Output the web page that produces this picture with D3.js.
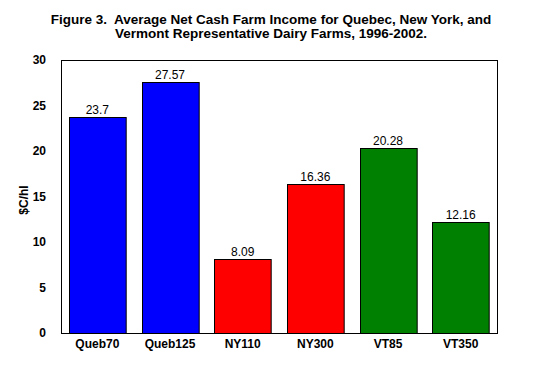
<!DOCTYPE html>
<html>
<head>
<meta charset="utf-8">
<script src="https://cdn.jsdelivr.net/npm/d3@7"></script>
<style>
body { margin: 0; background: #fff; }
text { font-family: Arial, "Liberation Sans", sans-serif; }
</style>
</head>
<body>
<div id="chart-area"></div>
<script>
// chart data
var farms = ["Queb70", "Queb125", "NY110", "NY300", "VT85", "VT350"];
var income = [23.7, 27.57, 8.09, 16.36, 20.28, 12.16];
var labels = ["23.7", "27.57", "8.09", "16.36", "20.28", "12.16"];
var barColors = ["#0000FF", "#0000FF", "#FF0000", "#FF0000", "#008000", "#008000"];
var yTicks = [0, 5, 10, 15, 20, 25, 30];

var width = 541,
	height = 366;
var margin = {top: 60, right: 44, bottom: 33, left: 61};
var w = width - margin.left - margin.right,
	h = height - margin.top - margin.bottom;

var svg = d3.select("#chart-area").append("svg")
	.attr("width", width)
	.attr("height", height);

// title
var title = svg.append("text")
	.attr("text-anchor", "middle")
	.style("font-size", "13.5px")
	.style("font-weight", "bold")
	.style("white-space", "pre");
title.append("tspan").attr("x", 271).attr("y", 24)
	.text("Figure 3.  Average Net Cash Farm Income for Quebec, New York, and");
title.append("tspan").attr("x", 271).attr("y", 38)
	.text("Vermont Representative Dairy Farms, 1996-2002.");

var g = svg.append("g")
	.attr("transform", "translate(" + margin.left + "," + margin.top + ")");

var x = d3.scaleBand()
	.domain(farms)
	.range([0, w])
	.paddingInner(0.22)
	.paddingOuter(0.11);

var y = d3.scaleLinear()
	.domain([0, 30])
	.range([h, 0]);

// frame
g.append("rect")
	.attr("x", 0.5).attr("y", 0.5)
	.attr("width", w).attr("height", h)
	.attr("fill", "none")
	.attr("stroke", "#000");

// y tick labels
var yAxis = d3.axisLeft(y).tickValues(yTicks).tickSize(0).tickPadding(15);
g.append("g")
	.call(yAxis)
	.call(function(s) { s.select(".domain").remove(); })
	.selectAll("text")
	.style("font-size", "12px")
	.style("font-weight", "bold")
	.style("font-family", "Arial, 'Liberation Sans', sans-serif")
	.attr("fill", "#000");

// x labels
var xAxis = d3.axisBottom(x).tickSize(0).tickPadding(6);
g.append("g")
	.attr("transform", "translate(0," + h + ")")
	.call(xAxis)
	.call(function(s) { s.select(".domain").remove(); })
	.selectAll("text")
	.style("font-size", "12px")
	.style("font-weight", "bold")
	.style("font-family", "Arial, 'Liberation Sans', sans-serif")
	.attr("fill", "#000");

// bars
g.selectAll(".bar")
	.data(farms)
	.enter()
	.append("rect")
	.attr("class", "bar")
	.attr("x", function(d) { return Math.round(x(d)) + 0.5; })
	.attr("y", function(d, i) { return Math.round(y(income[i])) + 0.5; })
	.attr("width", x.bandwidth())
	.attr("height", function(d, i) { return h - Math.round(y(income[i])); })
	.attr("fill", function(d, i) { return barColors[i]; })
	.attr("stroke", "#000");

// value labels
g.selectAll(".val")
	.data(farms)
	.enter()
	.append("text")
	.attr("class", "val")
	.attr("text-anchor", "middle")
	.attr("x", function(d) { return x(d) + x.bandwidth() / 2; })
	.attr("y", function(d, i) { return y(income[i]) - 3; })
	.style("font-size", "12px")
	.text(function(d, i) { return labels[i]; });

// y label
svg.append("text")
	.attr("text-anchor", "middle")
	.attr("transform", "translate(28,200) rotate(-90)")
	.style("font-size", "12px")
	.style("font-weight", "bold")
	.text("$C/hl");
</script>
</body>
</html>
